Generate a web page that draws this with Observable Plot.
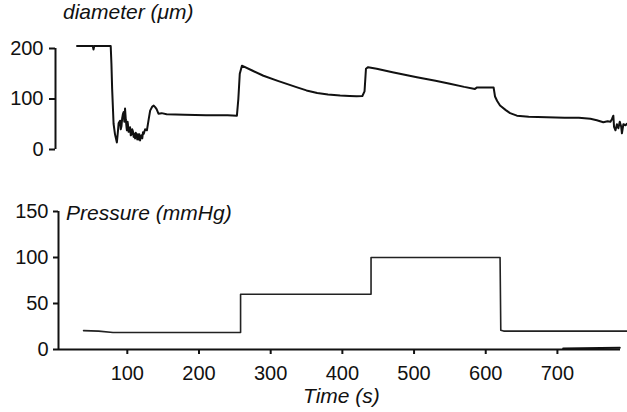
<!DOCTYPE html>
<html>
<head>
<meta charset="utf-8">
<script src="https://cdn.jsdelivr.net/npm/d3@7"></script>
<script src="https://cdn.jsdelivr.net/npm/@observablehq/plot@0.6"></script>
<style>
  body { margin: 0; background: #fff; }
  #wrap { position: relative; width: 627px; height: 412px; overflow: hidden; font-family: "Liberation Sans", Arial, sans-serif; }
  #wrap svg { position: absolute; left: 0; }
  .lab { position: absolute; font-style: italic; font-size: 21px; line-height: 21px; color: #111; white-space: nowrap; }
</style>
</head>
<body>
<div id="wrap">
  <div class="lab" style="left:63px; top:1px;">diameter (μm)</div>
  <div class="lab" style="left:66px; top:202px;">Pressure (mmHg)</div>
  <div class="lab" style="left:303px; top:385px;">Time (s)</div>
</div>
<script>
// Diameter trace (time in s, diameter in µm)
const diamTime = [30,45,52,53,54,70,77,78,79,81,83,85.6,87,88,90,91,92,93,94,95,96,97,98,99,99.6,100.5,101,102,104,105,106,107,108,109,110,111,112,113.5,114,115,116,117,118,119,120,121,122,123,125,127.5,130,132,135,137,139,141,143.6,148,155,180,210,240,253,255,257,260,275,290,310,337,350,365,380,397,410,420,428,431,433,436,448,470,504,530,550,570,585,588,611,613,616,620,628,634,643.5,660,685,710,730,746,755,764,770,774,776,778,779,781,783,785,787,789,790,792,795,797];
const diamValue = [205,205,205,198,205,205,205,170,120,51,30,14,35,52,57,40,46,62,70,74,55,81,60,45,38,55,50,35,44,28,30,40,36,25,31,22,33,28,20,30,20,30,18,26,28,22,34,31,40,38,60,77,85,87,84,80,71,72,70,69,68,68,67,100,150,166,156,146,136,123,117,112,109,107,106,105.5,106,115,160,163,160,153,143,136,130,124,120,123,123,105,96,87,78,72,67,65,64,63,63,61,58,54,56,55,60,67,45,38,50,42,55,45,32,50,48,51];

// Pressure trace (time in s, pressure in mmHg)
const presTime = [39,60,80,258,258,440,440,620,621,625,797];
const presValue = [20.5,20,18.5,18.5,60,60,100,100,21,20,20];

// faint trace lying on the time axis near the end
const baseTime = [708,787];
const baseValue = [1,2];

const diamTicks = [0,100,200];
const presTicks = [0,50,100,150];
const timeTicks = [100,200,300,400,500,600,700];

const diamDomain = [0,200];
const presDomain = [0,150];
const topTimeDomain = [0,788];
const botTimeDomain = [4,788];

const diamRows = diamTime.map((t,i) => ({t, v: diamValue[i]}));
const presRows = presTime.map((t,i) => ({t, v: presValue[i]}));
const baseRows = baseTime.map((t,i) => ({t, v: baseValue[i]}));

const fontStyle = {fontSize: "20px", fontFamily: "'Liberation Sans', Arial, sans-serif", color: "#111", background: "transparent", overflow: "visible"};

const topChart = Plot.plot({
  width: 627, height: 160,
  marginLeft: 55, marginRight: 7, marginTop: 48, marginBottom: 11,
  style: fontStyle,
  x: {domain: topTimeDomain, axis: null},
  y: {domain: diamDomain, axis: null},
  marks: [
    Plot.axisY({ticks: diamTicks, tickSize: 6, tickPadding: 6, strokeWidth: 2, stroke: "#111", label: null}),
    Plot.ruleX([topTimeDomain[0]], {y1: diamDomain[0], y2: diamDomain[1], stroke: "#111", strokeWidth: 2}),
    Plot.line(diamRows, {x: "t", y: "v", stroke: "#111", strokeWidth: 2})
  ]
});
topChart.style.top = "0px";

const botChart = Plot.plot({
  width: 627, height: 222,
  marginLeft: 58, marginRight: 7, marginTop: 21, marginBottom: 63,
  style: fontStyle,
  x: {domain: botTimeDomain, axis: null},
  y: {domain: presDomain, axis: null},
  marks: [
    Plot.axisY({ticks: presTicks, tickSize: 5, tickPadding: 5, strokeWidth: 2, stroke: "#111", label: null}),
    Plot.axisX({ticks: timeTicks, tickSize: 5, tickPadding: 11, strokeWidth: 2, stroke: "#111", label: null}),
    Plot.ruleX([botTimeDomain[0]], {y1: presDomain[0], y2: presDomain[1], stroke: "#111", strokeWidth: 2}),
    Plot.ruleY([presDomain[0]], {x1: botTimeDomain[0], x2: botTimeDomain[1], stroke: "#111", strokeWidth: 2}),
    Plot.line(baseRows, {x: "t", y: "v", stroke: "#111", strokeWidth: 2}),
    Plot.line(presRows, {x: "t", y: "v", stroke: "#222", strokeWidth: 1.6})
  ]
});
botChart.style.top = "190px";

const wrap = document.getElementById("wrap");
wrap.appendChild(topChart);
wrap.appendChild(botChart);
</script>
</body>
</html>
